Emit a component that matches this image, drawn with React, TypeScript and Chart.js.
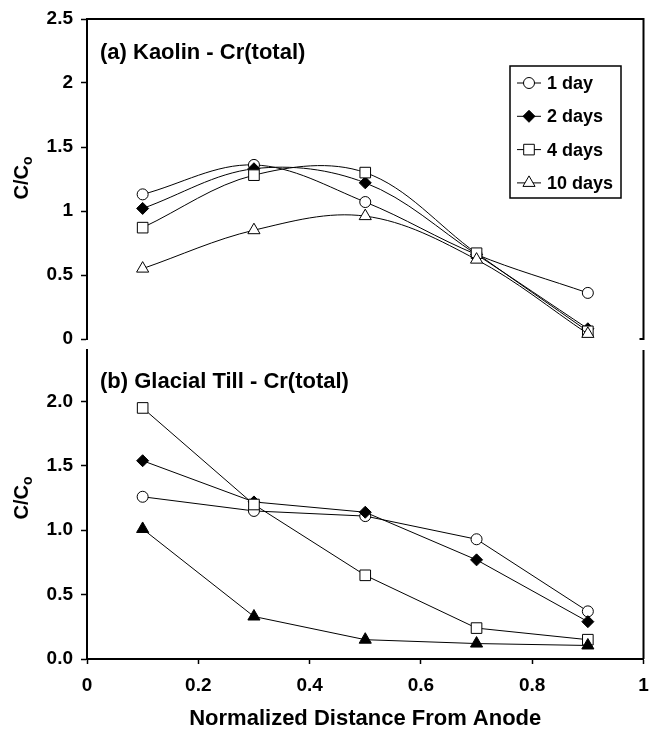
import React, { useEffect, useRef } from 'react';
import { Chart, registerables } from 'chart.js';

Chart.register(...registerables);

// ---------- data ----------
const xValues = [0.1, 0.3, 0.5, 0.7, 0.9];
const seriesLabels = ['1 day', '2 days', '4 days', '10 days'];

const kaolin1Day = [1.13, 1.36, 1.07, 0.66, 0.36];
const kaolin2Days = [1.02, 1.33, 1.22, 0.66, 0.08];
const kaolin4Days = [0.87, 1.28, 1.30, 0.67, 0.06];
const kaolin10Days = [0.55, 0.85, 0.96, 0.62, 0.04];

const till1Day = [1.26, 1.15, 1.11, 0.93, 0.37];
const till2Days = [1.54, 1.22, 1.14, 0.77, 0.29];
const till4Days = [1.95, 1.20, 0.65, 0.24, 0.15];
const till10Days = [1.01, 0.33, 0.15, 0.12, 0.105];

const topYTicks = [0, 0.5, 1, 1.5, 2, 2.5];
const topYTickLabels = ['0', '0.5', '1', '1.5', '2', '2.5'];
const bottomYTicks = [0, 0.5, 1, 1.5, 2];
const bottomYTickLabels = ['0.0', '0.5', '1.0', '1.5', '2.0'];
const xTicks = [0, 0.2, 0.4, 0.6, 0.8, 1];
const xTickLabels = ['0', '0.2', '0.4', '0.6', '0.8', '1'];

const topTitle = '(a) Kaolin - Cr(total)';
const bottomTitle = '(b) Glacial Till - Cr(total)';
const xAxisTitle = 'Normalized Distance From Anode';
const yTitleMain = 'C/C';
const yTitleSub = 'o';

// ---------- styling ----------
const FONT = "'Liberation Sans', Arial, Helvetica, sans-serif";
const markerStyles = [
  { pointStyle: 'circle', radius: 5.5 },
  { pointStyle: 'rectRot', radius: 6 },
  { pointStyle: 'rect', radius: 7.5 },
  { pointStyle: 'triangle', radius: 7 },
];

function makeDatasets(values: number[][], fills: string[], tension: number) {
  return values.map((vals, i) => ({
    label: seriesLabels[i],
    data: xValues.map((x, j) => ({ x, y: vals[j] })),
    order: -i,
    borderColor: '#000',
    borderWidth: 1,
    tension,
    fill: false,
    pointStyle: markerStyles[i].pointStyle,
    pointRadius: markerStyles[i].radius,
    pointHoverRadius: markerStyles[i].radius,
    pointBackgroundColor: fills[i],
    pointBorderColor: '#000',
    pointBorderWidth: 1,
  }));
}

function drawMarker(ctx: CanvasRenderingContext2D, style: string, x: number, y: number, r: number, fill: string) {
  ctx.beginPath();
  if (style === 'circle') {
    ctx.arc(x, y, r, 0, Math.PI * 2);
  } else if (style === 'rectRot') {
    ctx.moveTo(x - r, y);
    ctx.lineTo(x, y - r);
    ctx.lineTo(x + r, y);
    ctx.lineTo(x, y + r);
  } else if (style === 'rect') {
    const s = Math.SQRT1_2 * r;
    ctx.rect(x - s, y - s, 2 * s, 2 * s);
  } else {
    const a = (2 * Math.PI) / 3;
    ctx.moveTo(x, y - r);
    ctx.lineTo(x + Math.sin(a) * r, y - Math.cos(a) * r);
    ctx.lineTo(x + Math.sin(2 * a) * r, y - Math.cos(2 * a) * r);
  }
  ctx.closePath();
  ctx.fillStyle = fill;
  ctx.fill();
  ctx.lineWidth = 1;
  ctx.strokeStyle = '#000';
  ctx.stroke();
}

function decorPlugin(opts: {
  title: string;
  titleY: number;
  yTitleCenter: number;
  frameTop: boolean;
  legend: boolean;
  legendFills?: string[];
}) {
  return {
    id: 'decor',
    afterDraw(chart: any) {
      const ctx: CanvasRenderingContext2D = chart.ctx;
      const { left, right, top, bottom } = chart.chartArea;
      ctx.save();
      // frame
      ctx.strokeStyle = '#000';
      ctx.lineWidth = 2;
      ctx.beginPath();
      if (opts.frameTop) {
        ctx.moveTo(left - 1, top);
        ctx.lineTo(right, top);
        ctx.lineTo(right, bottom);
        ctx.lineTo(right - 4, bottom);
      } else {
        ctx.moveTo(right, top);
        ctx.lineTo(right, bottom);
      }
      ctx.stroke();

      // panel title
      ctx.fillStyle = '#000';
      ctx.font = `bold 22px ${FONT}`;
      ctx.textBaseline = 'middle';
      ctx.textAlign = 'left';
      ctx.fillText(opts.title, 100, opts.titleY);

      // y-axis title with subscript
      ctx.save();
      ctx.translate(28, opts.yTitleCenter);
      ctx.rotate(-Math.PI / 2);
      ctx.textBaseline = 'alphabetic';
      ctx.font = `bold 20px ${FONT}`;
      const w1 = ctx.measureText(yTitleMain).width;
      ctx.font = `bold 14px ${FONT}`;
      const w2 = ctx.measureText(yTitleSub).width;
      const start = -(w1 + w2) / 2;
      ctx.font = `bold 20px ${FONT}`;
      ctx.fillText(yTitleMain, start, 0);
      ctx.font = `bold 14px ${FONT}`;
      ctx.fillText(yTitleSub, start + w1, 4);
      ctx.restore();

      // legend
      if (opts.legend) {
        const bx = 510, by = 66, bw = 111, bh = 132;
        ctx.lineWidth = 1.5;
        ctx.strokeStyle = '#000';
        ctx.fillStyle = '#fff';
        ctx.fillRect(bx, by, bw, bh);
        ctx.strokeRect(bx, by, bw, bh);
        chart.data.datasets.forEach((ds: any, i: number) => {
          const cy = by + 17 + i * 33.3;
          ctx.beginPath();
          ctx.lineWidth = 1;
          ctx.moveTo(517, cy);
          ctx.lineTo(541, cy);
          ctx.stroke();
          drawMarker(ctx, markerStyles[i].pointStyle, 529, cy, markerStyles[i].radius, (opts.legendFills || [])[i]);
          ctx.fillStyle = '#000';
          ctx.font = `bold 18px ${FONT}`;
          ctx.textBaseline = 'middle';
          ctx.textAlign = 'left';
          ctx.fillText(ds.label, 547, cy + 1);
        });
      }
      ctx.restore();
    },
  };
}

const tickFont = { family: FONT, size: 19, weight: 'bold' as const };

export default function App() {
  const topRef = useRef<HTMLCanvasElement>(null);
  const botRef = useRef<HTMLCanvasElement>(null);

  useEffect(() => {
    Chart.defaults.font.family = FONT;
    Chart.defaults.color = '#000';
    const topFills = ['#fff', '#000', '#fff', '#fff'];
    const botFills = ['#fff', '#000', '#fff', '#000'];

    const topChart = new Chart(topRef.current!, {
      type: 'line',
      data: {
        datasets: makeDatasets([kaolin1Day, kaolin2Days, kaolin4Days, kaolin10Days], topFills, 0.35) as any,
      },
      options: {
        animation: false,
        responsive: false,
        devicePixelRatio: 1,
        events: [],
        layout: { padding: { left: 0, top: 19, right: 7, bottom: 13 } },
        plugins: { legend: { display: false }, tooltip: { enabled: false } },
        scales: {
          x: { type: 'linear', min: 0, max: 1, display: false },
          y: {
            type: 'linear',
            min: 0,
            max: 2.5,
            afterBuildTicks: (s: any) => {
              s.ticks = topYTicks.map((v) => ({ value: v }));
            },
            afterFit: (s: any) => {
              s.width = 87;
              s.paddingTop = 0;
              s.paddingBottom = 0;
            },
            ticks: {
              callback: (v: any) => topYTickLabels[topYTicks.indexOf(v)],
              font: tickFont,
              color: '#000',
              padding: 8,
            },
            grid: { drawOnChartArea: false, drawTicks: true, tickLength: 6, tickColor: '#000', tickWidth: 1.5 },
            border: { display: true, color: '#000', width: 2 },
          },
        },
      } as any,
      plugins: [decorPlugin({ title: topTitle, titleY: 53, yTitleCenter: 178, frameTop: true, legend: true, legendFills: topFills })],
    });

    const botChart = new Chart(botRef.current!, {
      type: 'line',
      data: {
        datasets: makeDatasets([till1Day, till2Days, till4Days, till10Days], botFills, 0) as any,
      },
      options: {
        animation: false,
        responsive: false,
        devicePixelRatio: 1,
        events: [],
        layout: { padding: { left: 0, top: 10, right: 4, bottom: 0 } },
        plugins: { legend: { display: false }, tooltip: { enabled: false } },
        scales: {
          x: {
            type: 'linear',
            min: 0,
            max: 1,
            afterBuildTicks: (s: any) => {
              s.ticks = xTicks.map((v) => ({ value: v }));
            },
            afterFit: (s: any) => {
              s.height = 73;
              s.paddingLeft = 0;
              s.paddingRight = 0;
            },
            ticks: {
              callback: (v: any) => xTickLabels[xTicks.indexOf(v)],
              font: tickFont,
              color: '#000',
              padding: 10,
              maxRotation: 0,
              autoSkip: false,
            },
            grid: { drawOnChartArea: false, drawTicks: true, tickLength: 5, tickColor: '#000', tickWidth: 1.5 },
            border: { display: true, color: '#000', width: 2 },
            title: {
              display: true,
              text: xAxisTitle,
              color: '#000',
              font: { family: FONT, size: 22, weight: 'bold' },
              padding: { top: 0, bottom: 0 },
            },
          },
          y: {
            type: 'linear',
            min: 0,
            max: 2.4,
            afterBuildTicks: (s: any) => {
              s.ticks = bottomYTicks.map((v) => ({ value: v }));
            },
            afterFit: (s: any) => {
              s.width = 87;
              s.paddingTop = 0;
              s.paddingBottom = 0;
            },
            ticks: {
              callback: (v: any) => bottomYTickLabels[bottomYTicks.indexOf(v)],
              font: tickFont,
              color: '#000',
              padding: 8,
            },
            grid: { drawOnChartArea: false, drawTicks: true, tickLength: 6, tickColor: '#000', tickWidth: 1.5 },
            border: { display: true, color: '#000', width: 2 },
          },
        },
      } as any,
      plugins: [decorPlugin({ title: bottomTitle, titleY: 42, yTitleCenter: 158, frameTop: false, legend: false })],
    });

    return () => {
      topChart.destroy();
      botChart.destroy();
    };
  }, []);

  return (
    <div style={{ position: 'absolute', left: 0, top: 0, width: 652, height: 732, background: '#fff' }}>
      <canvas
        ref={topRef}
        width={652}
        height={352}
        style={{ position: 'absolute', left: 0, top: 0, width: 652, height: 352 }}
      />
      <canvas
        ref={botRef}
        width={652}
        height={392}
        style={{ position: 'absolute', left: 0, top: 340, width: 652, height: 392 }}
      />
    </div>
  );
}
